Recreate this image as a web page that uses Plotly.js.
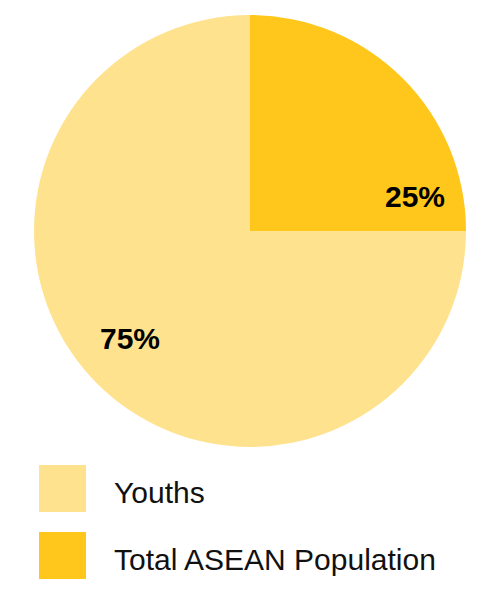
<!DOCTYPE html>
<html>
<head>
<meta charset="utf-8">
<script src="https://cdn.plot.ly/plotly-3.0.1.min.js"></script>
<style>
  html, body { margin: 0; padding: 0; background: #fff; }
  #chart { width: 500px; height: 589px; }
</style>
</head>
<body>
<div id="chart"></div>
<script>
// Share of youths in the total ASEAN population
const categories = ['Total ASEAN Population', 'Youths'];
const values = [25, 75];
const colors = ['#FFC71B', '#FFE28E'];
const legendOrder = ['Youths', 'Total ASEAN Population'];

const W = 500, H = 589;
const px = x => x / W;
const py = y => 1 - y / H;

const total = values.reduce((a, b) => a + b, 0);
const pct = v => Math.round(v / total * 100) + '%';

const trace = {
  type: 'pie',
  labels: categories,
  values: values,
  sort: false,
  direction: 'clockwise',
  rotation: 0,
  marker: { colors: colors, line: { width: 0 } },
  textinfo: 'none',
  hoverinfo: 'label+percent',
  showlegend: false,
  domain: { x: [px(34), px(466)], y: [py(447), py(15)] }
};

// value labels placed inside each slice
const labelPos = {
  'Total ASEAN Population': [415, 196],
  'Youths': [130, 338]
};

const annotations = categories.map((c, i) => ({
  xref: 'paper', yref: 'paper',
  x: px(labelPos[c][0]), y: py(labelPos[c][1]),
  xanchor: 'center', yanchor: 'middle',
  text: '<b>' + pct(values[i]) + '</b>',
  showarrow: false,
  font: { family: 'Liberation Sans, Arial, sans-serif', size: 30, color: '#000' }
}));

// legend drawn as large swatches with labels
const shapes = [];
const swatchTop = [465, 532];
legendOrder.forEach((name, k) => {
  const idx = categories.indexOf(name);
  const top = swatchTop[k];
  shapes.push({
    type: 'rect', xref: 'paper', yref: 'paper',
    x0: px(39), x1: px(86), y0: py(top + 47), y1: py(top),
    fillcolor: colors[idx], line: { width: 0 }
  });
  annotations.push({
    xref: 'paper', yref: 'paper',
    x: px(112), y: py(top + 27),
    xanchor: 'left', yanchor: 'middle',
    text: name,
    showarrow: false,
    font: { family: 'Liberation Sans, Arial, sans-serif', size: 30, color: '#111' }
  });
});

const layout = {
  width: W, height: H,
  margin: { l: 0, r: 0, t: 0, b: 0 },
  paper_bgcolor: '#fff',
  plot_bgcolor: '#fff',
  showlegend: false,
  shapes: shapes,
  annotations: annotations
};

Plotly.newPlot('chart', [trace], layout, { displayModeBar: false, staticPlot: true });
</script>
</body>
</html>
